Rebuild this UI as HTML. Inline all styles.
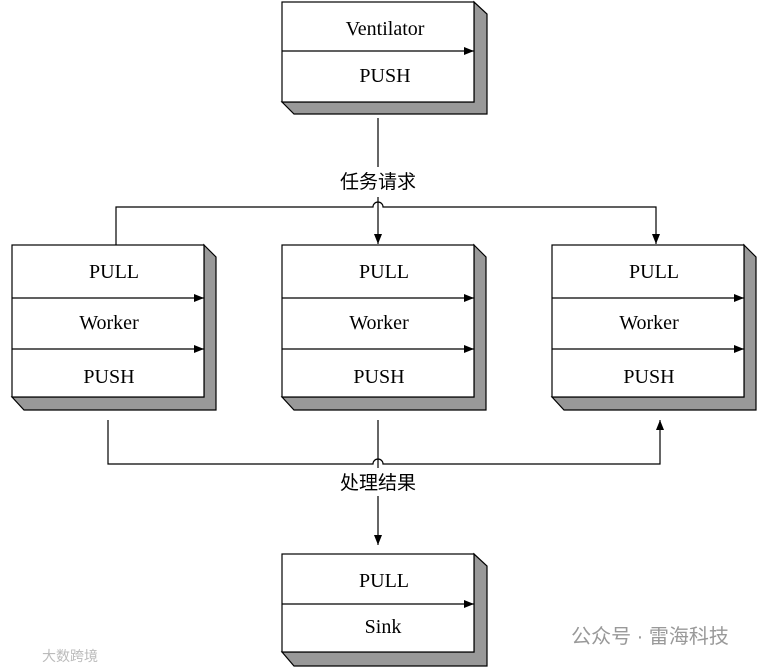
<!DOCTYPE html>
<html><head><meta charset="utf-8"><style>body{margin:0;background:#fff}svg{display:block}</style></head><body>
<svg width="759" height="668" viewBox="0 0 759 668" xmlns="http://www.w3.org/2000/svg">
<defs><marker id="a" markerWidth="10" markerHeight="8" refX="10" refY="4" orient="auto" markerUnits="userSpaceOnUse"><path d="M0,0L10,4L0,8z" fill="#000"/></marker></defs>
<g stroke="#000" stroke-width="1.2" font-family="Liberation Serif, serif" font-size="20" text-anchor="middle">
<path d="M474,2L487,14L487,114L294,114L282,102L474,102z" fill="#999"/>
<rect x="282" y="2" width="192" height="100" fill="#fff"/>
<line x1="282" y1="51" x2="474" y2="51" marker-end="url(#a)"/>
<text x="385" y="35" stroke="none">Ventilator</text><text x="385" y="82" stroke="none">PUSH</text>
<g>
<path d="M204,245L216,257L216,410L24,410L12,397L204,397z" fill="#999"/>
<rect x="12" y="245" width="192" height="152" fill="#fff"/>
<line x1="12" y1="298" x2="204" y2="298" marker-end="url(#a)"/><line x1="12" y1="349" x2="204" y2="349" marker-end="url(#a)"/>
<text x="114" y="278" stroke="none">PULL</text><text x="109" y="329" stroke="none">Worker</text><text x="109" y="383" stroke="none">PUSH</text>
</g>
<g transform="translate(270,0)">
<path d="M204,245L216,257L216,410L24,410L12,397L204,397z" fill="#999"/>
<rect x="12" y="245" width="192" height="152" fill="#fff"/>
<line x1="12" y1="298" x2="204" y2="298" marker-end="url(#a)"/><line x1="12" y1="349" x2="204" y2="349" marker-end="url(#a)"/>
<text x="114" y="278" stroke="none">PULL</text><text x="109" y="329" stroke="none">Worker</text><text x="109" y="383" stroke="none">PUSH</text>
</g>
<g transform="translate(540,0)">
<path d="M204,245L216,257L216,410L24,410L12,397L204,397z" fill="#999"/>
<rect x="12" y="245" width="192" height="152" fill="#fff"/>
<line x1="12" y1="298" x2="204" y2="298" marker-end="url(#a)"/><line x1="12" y1="349" x2="204" y2="349" marker-end="url(#a)"/>
<text x="114" y="278" stroke="none">PULL</text><text x="109" y="329" stroke="none">Worker</text><text x="109" y="383" stroke="none">PUSH</text>
</g>
<path d="M474,554L487,566L487,666L294,666L282,652L474,652z" fill="#999"/>
<rect x="282" y="554" width="192" height="98" fill="#fff"/>
<line x1="282" y1="604" x2="474" y2="604" marker-end="url(#a)"/>
<text x="384" y="587" stroke="none">PULL</text><text x="383" y="633" stroke="none">Sink</text>
<g fill="none">
<line x1="378" y1="118" x2="378" y2="167"/>
<path d="M116,245V207H373A5,5 0 0 1 383,207H656V244" marker-end="url(#a)"/>
<line x1="378" y1="197" x2="378" y2="244" marker-end="url(#a)"/>
<path d="M108,420V464H373A5,5 0 0 1 383,464H660V420" marker-end="url(#a)"/>
<line x1="378" y1="420" x2="378" y2="468"/>
<line x1="378" y1="496" x2="378" y2="545" marker-end="url(#a)"/>
</g>
<g stroke="none" font-family="Liberation Sans, Noto Sans CJK SC, sans-serif" font-size="19">
<rect x="332" y="170" width="92" height="24" fill="#fff"/>
<text x="378" y="188">任务请求</text>
<rect x="332" y="470" width="92" height="24" fill="#fff"/>
<text x="378" y="489">处理结果</text>
<text x="650" y="643" fill="#999" font-size="20">公众号 · 雷海科技</text>
<text x="70" y="661" fill="#bbb" font-size="14">大数跨境</text>
</g>
</g>
</svg>
</body></html>
